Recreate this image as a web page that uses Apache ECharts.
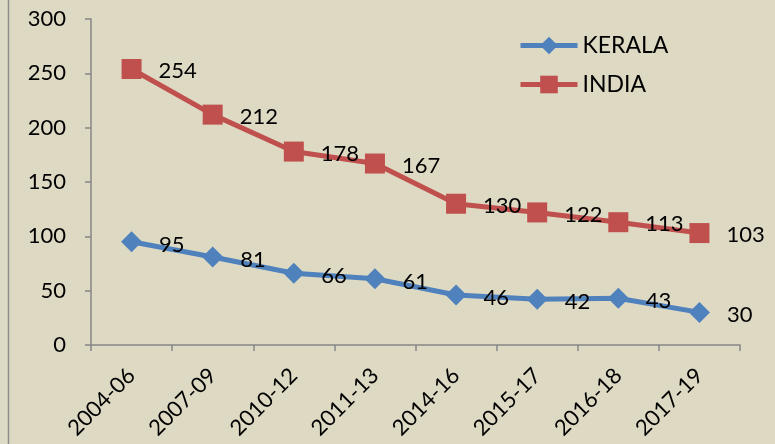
<!DOCTYPE html>
<html>
<head>
<meta charset="utf-8">
<script src="https://cdn.jsdelivr.net/npm/echarts@6/dist/echarts.min.js"></script>
<style>
  html, body { margin: 0; padding: 0; background: #DDD9C3; }
  #chart { width: 775px; height: 444px; }
</style>
</head>
<body>
<div id="chart"></div>
<script>
  var periods = ['2004-06', '2007-09', '2010-12', '2011-13', '2014-16', '2015-17', '2016-18', '2017-19'];
  var kerala = [95, 81, 66, 61, 46, 42, 43, 30];
  var india = [254, 212, 178, 167, 130, 122, 113, 103];
  var yTicks = { min: 0, max: 300, step: 50 };

  var font = 'Lato';
  var axisGrey = '#868686';

  var myChart = echarts.init(document.getElementById('chart'));
  var option = {
    backgroundColor: '#DDD9C3',
    animation: false,
    textStyle: { fontFamily: font },
    graphic: [{
      type: 'rect',
      shape: { x: 8.5, y: -10, width: 800, height: 500 },
      style: { fill: 'none', stroke: '#8E8E8E', lineWidth: 1.5 }
    }],
    legend: {
      orient: 'vertical',
      left: 513,
      top: 29,
      itemWidth: 57,
      itemHeight: 22,
      itemGap: 16,
      textStyle: { fontSize: 23, color: '#000', fontFamily: font },
      lineStyle: { width: 5 },
      data: ['KERALA', 'INDIA']
    },
    grid: { left: 91, right: 35, top: 19, bottom: 99 },
    xAxis: {
      type: 'category',
      data: periods,
      boundaryGap: true,
      axisLine: { lineStyle: { color: axisGrey, width: 1.5 } },
      axisTick: { show: true, length: 6, lineStyle: { color: axisGrey, width: 1.5 } },
      axisLabel: { rotate: 45, fontSize: 22, color: '#000', margin: 27 }
    },
    yAxis: {
      type: 'value',
      min: yTicks.min,
      max: yTicks.max,
      interval: yTicks.step,
      splitLine: { show: false },
      axisLine: { show: true, lineStyle: { color: axisGrey, width: 1.5 } },
      axisTick: { show: true, length: 6, lineStyle: { color: axisGrey, width: 1.5 } },
      axisLabel: { fontSize: 22, color: '#000', margin: 25 }
    },
    series: [{
      name: 'KERALA',
      type: 'line',
      data: kerala,
      symbol: 'diamond',
      symbolSize: 21,
      color: '#4F81BD',
      lineStyle: { width: 5 },
      itemStyle: { color: '#4F81BD' },
      label: { show: true, position: 'right', distance: 17, fontSize: 22, color: '#000', offset: [0, 3] }
    }, {
      name: 'INDIA',
      type: 'line',
      data: india,
      symbol: 'rect',
      symbolSize: 20,
      color: '#C0504D',
      lineStyle: { width: 5 },
      itemStyle: { color: '#C0504D' },
      label: { show: true, position: 'right', distance: 17, fontSize: 22, color: '#000', offset: [0, 2] }
    }]
  };
  myChart.setOption(option);
</script>
</body>
</html>
